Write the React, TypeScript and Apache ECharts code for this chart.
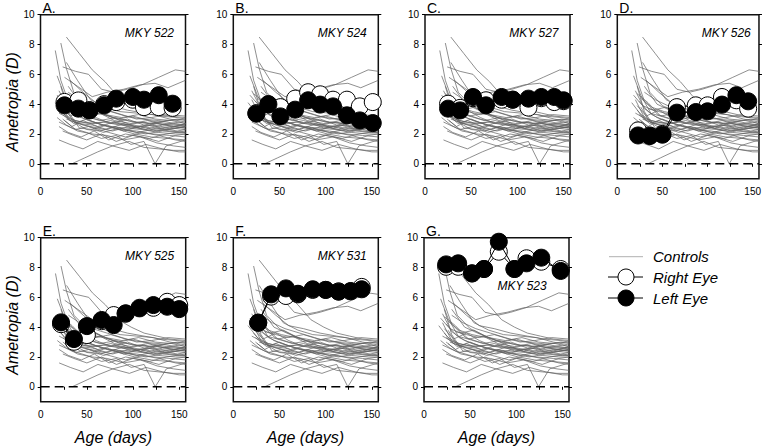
import React, { useEffect, useRef } from "react";
import * as echarts from "echarts";

// ---------- data ----------
const panelLetters = ["A.", "B.", "C.", "D.", "E.", "F.", "G."];
const monkeyIds = ["MKY 522", "MKY 524", "MKY 527", "MKY 526", "MKY 525", "MKY 531", "MKY 523"];

const agesA = [26, 41, 53, 69, 82, 100, 112, 128, 143];
const leftA = [3.92, 3.7, 3.58, 3.92, 4.37, 4.48, 4.3, 4.6, 4.03];
const rightA = [4.15, 4.25, 3.6, 4.0, 4.14, 4.3, 3.8, 3.8, 3.75];

const agesB = [25, 38, 51, 67, 81, 94, 108, 123, 137, 151];
const leftB = [3.36, 3.99, 3.18, 3.63, 4.26, 3.97, 3.85, 3.25, 2.91, 2.73];
const rightB = [3.4, 4.0, 3.8, 4.37, 4.8, 4.66, 4.3, 4.3, 3.85, 4.14];

const agesC = [25, 38, 52, 66, 83, 95, 112, 126, 140, 150];
const leftC = [3.7, 3.58, 4.48, 3.92, 4.48, 4.3, 4.37, 4.48, 4.48, 4.26];
const rightC = [4.03, 3.75, 4.4, 4.26, 4.3, 4.3, 3.77, 4.4, 4.14, 4.2];

const agesD = [23, 36, 50, 66, 87, 100, 116, 132, 145];
const leftD = [1.9, 1.86, 1.95, 3.43, 3.47, 3.52, 3.97, 4.6, 4.19];
const rightD = [2.24, 1.9, 2.0, 3.8, 3.92, 3.92, 4.48, 4.26, 3.7];

const agesE = [22, 36, 50, 66, 79, 92, 107, 122, 137, 150];
const leftE = [4.32, 3.2, 4.07, 4.48, 4.14, 4.93, 5.26, 5.48, 5.37, 5.21];
const rightE = [4.2, 3.02, 3.47, 4.4, 4.81, 4.9, 5.3, 5.3, 5.7, 5.48];

const agesF = [27, 41, 57, 70, 86, 100, 114, 127, 139];
const leftF = [4.3, 6.2, 6.6, 6.24, 6.54, 6.5, 6.38, 6.42, 6.54];
const rightF = [4.3, 6.05, 6.09, 6.2, 6.5, 6.5, 6.4, 6.4, 6.7];

const agesG = [24, 37, 52, 65, 81, 98, 111, 127, 148];
const leftG = [8.21, 8.28, 7.61, 7.9, 9.73, 7.9, 8.28, 8.66, 7.77];
const rightG = [8.05, 8.05, 7.6, 7.9, 9.06, 7.9, 8.62, 8.39, 7.9];

const subjectAges = [agesA, agesB, agesC, agesD, agesE, agesF, agesG];
const leftEye = [leftA, leftB, leftC, leftD, leftE, leftF, leftG];
const rightEye = [rightA, rightB, rightC, rightD, rightE, rightF, rightG];

// control animals: [age (days), ametropia (D)]
const controls: number[][][] = [
  [[16, 7.6], [22, 5.6], [30, 4.2], [45, 3.3], [60, 3.0], [80, 2.7], [100, 2.6], [120, 2.4], [140, 2.2], [157, 2.1]],
  [[22, 8.1], [28, 6.4], [36, 4.8], [50, 3.9], [66, 3.4], [84, 3.0], [104, 2.8], [124, 2.7], [144, 2.6], [157, 2.5]],
  [[28, 8.5], [42, 7.4], [56, 6.3], [70, 5.5], [84, 4.5], [98, 4.0], [112, 3.6], [126, 3.4], [140, 3.2], [157, 3.1]],
  [[24, 6.5], [38, 6.2], [52, 6.0], [66, 5.0], [80, 4.8], [94, 5.0], [110, 5.3], [128, 5.8], [146, 6.3], [157, 6.2]],
  [[26, 5.8], [40, 5.2], [56, 4.5], [72, 4.8], [90, 5.0], [108, 5.3], [124, 5.4], [138, 5.1], [157, 5.6]],
  [[34, 0.0], [48, 0.4], [62, 0.8], [78, 1.2], [96, 1.5], [112, 1.1], [128, 1.0], [144, 0.9], [157, 0.9]],
  [[20, 2.8], [34, 2.4], [50, 2.1], [66, 1.7], [82, 1.9], [98, 1.3], [112, 1.5], [124, 0.0], [136, 1.2], [157, 1.6]],
  [[18, 5.9], [26, 4.6], [38, 3.3], [52, 2.9], [68, 2.6], [86, 2.3], [104, 2.2], [122, 2.0], [140, 1.9], [157, 1.8]],
  [[20, 4.9], [30, 3.7], [44, 3.1], [58, 2.8], [74, 2.5], [92, 2.4], [110, 2.3], [128, 2.1], [146, 2.0], [157, 2.0]],
  [[22, 3.6], [32, 2.9], [46, 2.6], [62, 2.4], [78, 2.2], [96, 2.5], [114, 2.3], [132, 2.6], [150, 2.8], [157, 2.7]],
  [[24, 4.2], [36, 3.4], [48, 3.2], [64, 3.4], [80, 2.9], [98, 2.7], [116, 2.9], [134, 2.6], [157, 2.4]],
  [[18, 3.1], [28, 2.6], [40, 2.2], [56, 2.0], [72, 1.9], [90, 1.6], [108, 1.8], [126, 1.4], [144, 1.2], [157, 1.1]],
  [[26, 4.4], [38, 3.8], [52, 3.5], [68, 3.3], [84, 3.0], [100, 3.2], [118, 2.9], [136, 2.7], [157, 2.6]],
  [[20, 3.4], [32, 3.0], [44, 2.8], [60, 2.7], [76, 2.9], [94, 2.6], [112, 2.8], [130, 2.4], [148, 2.2], [157, 2.3]],
  [[30, 5.2], [44, 4.0], [58, 3.6], [74, 3.2], [90, 2.8], [106, 2.4], [122, 2.2], [140, 2.3], [157, 2.5]],
  [[24, 2.2], [36, 1.9], [50, 1.6], [66, 2.0], [82, 1.5], [100, 1.9], [118, 1.7], [136, 2.0], [157, 2.2]],
  [[22, 3.9], [32, 3.2], [46, 3.6], [60, 3.1], [76, 2.7], [94, 3.0], [112, 2.6], [130, 2.8], [148, 3.0], [157, 2.9]],
  [[28, 6.8], [40, 5.6], [54, 4.3], [70, 3.8], [86, 3.5], [104, 3.4], [122, 3.3], [140, 3.0], [157, 2.8]],
  [[18, 4.6], [28, 3.9], [40, 3.6], [54, 3.8], [70, 3.3], [88, 3.1], [106, 3.3], [124, 3.0], [142, 2.9], [157, 2.7]],
  [[26, 2.9], [38, 2.3], [52, 2.5], [68, 2.1], [86, 2.4], [104, 2.1], [122, 2.3], [140, 2.5], [157, 2.4]],
  [[20, 1.6], [32, 1.3], [46, 1.0], [62, 1.5], [78, 1.2], [96, 0.9], [114, 1.3], [132, 1.0], [150, 0.8], [157, 0.8]],
  [[30, 4.8], [42, 4.3], [56, 3.9], [72, 3.6], [88, 3.3], [104, 3.0], [120, 3.1], [138, 3.3], [157, 3.2]],
  [[22, 5.2], [30, 3.5], [42, 2.4], [56, 2.3], [72, 2.6], [90, 2.2], [108, 2.5], [126, 2.2], [146, 2.4], [157, 2.5]],
  [[24, 3.3], [36, 2.7], [50, 3.0], [66, 2.6], [84, 2.3], [102, 2.0], [120, 1.8], [138, 1.7], [157, 1.6]],
  [[34, 3.7], [46, 3.5], [60, 3.3], [76, 3.5], [92, 3.2], [110, 3.0], [128, 2.9], [146, 2.7], [157, 2.6]],
  [[20, 2.5], [30, 2.1], [44, 1.8], [58, 2.2], [74, 1.6], [92, 2.0], [110, 1.8], [128, 1.5], [146, 1.9], [157, 2.0]],
  [[26, 3.8], [36, 2.8], [50, 2.3], [64, 2.2], [80, 2.5], [96, 2.2], [114, 2.0], [132, 2.2], [150, 2.1], [157, 2.1]],
  [[16, 4.1], [26, 3.3], [38, 2.9], [52, 2.7], [68, 2.8], [86, 2.6], [104, 2.5], [122, 2.6], [140, 2.4], [157, 2.3]],
  [[28, 3.0], [42, 2.7], [58, 2.4], [74, 2.1], [92, 1.8], [110, 2.1], [128, 1.9], [146, 1.6], [157, 1.5]],
  [[22, 4.7], [34, 4.1], [48, 3.2], [64, 2.9], [82, 3.1], [100, 2.8], [118, 2.7], [136, 2.9], [157, 3.0]],
  [[32, 5.6], [46, 4.8], [60, 4.1], [76, 3.9], [94, 3.6], [112, 3.4], [130, 3.2], [148, 3.1], [157, 3.0]],
  [[24, 3.0], [34, 2.5], [46, 2.9], [62, 2.5], [80, 2.8], [98, 2.4], [116, 2.6], [134, 2.3], [152, 2.6], [157, 2.7]],
  [[20, 4.3], [30, 3.1], [42, 2.7], [56, 2.6], [72, 2.3], [90, 2.7], [108, 2.4], [126, 2.7], [144, 2.5], [157, 2.6]],
];

const xTickValues = [0, 25, 50, 75, 100, 125, 150];
const xLabelValues = [0, 50, 100, 150];
const yTickValues = [0, 2, 4, 6, 8, 10];
const legendLabels = ["Controls", "Right Eye", "Left Eye"];
const xTitle = "Age (days)";
const yTitle = "Ametropia (D)";

// ---------- layout ----------
const gridLefts = [40.5, 233.3, 425, 617.3, 40.7, 233.3, 424];
const gridTops = [14.7, 14.7, 14.7, 14.7, 237.7, 237.7, 237.7];
const GW = 145;
const GH = 164;
const FONT = "Liberation Sans, Arial, sans-serif";

export default function App() {
  const ref = useRef<HTMLDivElement>(null);
  useEffect(() => {
    if (!ref.current) return;
    const chart = echarts.init(ref.current, undefined, { renderer: "svg" });

    const grid: any[] = [];
    const xAxis: any[] = [];
    const yAxis: any[] = [];
    const series: any[] = [];
    const graphic: any[] = [];

    for (let i = 0; i < 7; i++) {
      grid.push({
        left: gridLefts[i], top: gridTops[i], width: GW, height: GH,
        show: true, borderColor: "#111", borderWidth: 1.5, backgroundColor: "transparent",
      });
      xAxis.push({
        gridIndex: i, type: "value", min: 0, max: 157,
        axisLine: { show: false },
        axisTick: { show: true, customValues: xTickValues, length: 3, lineStyle: { color: "#000", width: 1 } },
        axisLabel: { customValues: xLabelValues, fontSize: 10, color: "#000", margin: 8, fontFamily: FONT },
        splitLine: { show: false },
      });
      yAxis.push({
        gridIndex: i, type: "value", min: -1, max: 10, position: "left",
        axisLine: { show: false },
        axisTick: { show: true, customValues: yTickValues, length: 3, lineStyle: { color: "#000", width: 1 } },
        axisLabel: { customValues: yTickValues, fontSize: 10, color: "#000", margin: 6, fontFamily: FONT },
        splitLine: { show: false },
      });
      yAxis.push({
        gridIndex: i, type: "value", min: -1, max: 10, position: "right",
        axisLine: { show: false },
        axisTick: { show: true, customValues: yTickValues, length: 3, lineStyle: { color: "#000", width: 1 } },
        axisLabel: { show: false },
        splitLine: { show: false },
      });

      controls.forEach((c) => {
        series.push({
          type: "line", xAxisIndex: i, yAxisIndex: 2 * i, data: c, symbol: "none",
          lineStyle: { color: "#5e5e5e", width: 0.7 }, silent: true, z: 1,
        });
      });
      series.push({
        type: "line", xAxisIndex: i, yAxisIndex: 2 * i, data: [[0, 0], [157, 0]], symbol: "none",
        lineStyle: { color: "#000", width: 1.5, type: [9, 5] }, silent: true, z: 2,
      });
      series.push({
        type: "line", xAxisIndex: i, yAxisIndex: 2 * i,
        data: subjectAges[i].map((a, j) => [a, rightEye[i][j]]),
        symbol: "circle", symbolSize: 17, showAllSymbol: true,
        itemStyle: { color: "#fff", borderColor: "#000", borderWidth: 1 },
        lineStyle: { color: "#000", width: 1 }, z: 3,
      });
      series.push({
        type: "line", xAxisIndex: i, yAxisIndex: 2 * i,
        data: subjectAges[i].map((a, j) => [a, leftEye[i][j]]),
        symbol: "circle", symbolSize: 17, showAllSymbol: true,
        itemStyle: { color: "#000", borderColor: "#000", borderWidth: 1 },
        lineStyle: { color: "#000", width: 1 }, z: 4,
      });

      graphic.push({
        type: "text", x: gridLefts[i] + 2, y: gridTops[i] - 7,
        style: { text: panelLetters[i], font: `14px ${FONT}`, fill: "#000", textVerticalAlign: "middle" },
      });
      const isG = i === 6;
      graphic.push({
        type: "text",
        x: isG ? 546.7 : gridLefts[i] + GW - 11.5,
        y: isG ? 285.7 : gridTops[i] + 18.5,
        z: 10,
        style: {
          text: monkeyIds[i], font: `italic 12px ${FONT}`, fill: "#000",
          textAlign: "right", textVerticalAlign: "middle",
        },
      });
    }

    // axis titles
    [102, 325].forEach((cy) => {
      graphic.push({
        type: "text", x: 12, y: cy, rotation: Math.PI / 2,
        style: { text: yTitle, font: `italic 16px ${FONT}`, fill: "#000", textAlign: "center", textVerticalAlign: "middle" },
      });
    });
    [113.5, 305.5, 496.5].forEach((cx) => {
      graphic.push({
        type: "text", x: cx, y: 437,
        style: { text: xTitle, font: `italic 16px ${FONT}`, fill: "#000", textAlign: "center", textVerticalAlign: "middle" },
      });
    });

    // legend
    const ly = [256.7, 277, 298];
    graphic.push({ type: "line", shape: { x1: 609, y1: ly[0], x2: 643, y2: ly[0] }, style: { stroke: "#b0b0b0", lineWidth: 1 } });
    graphic.push({ type: "line", shape: { x1: 608, y1: ly[1], x2: 643, y2: ly[1] }, style: { stroke: "#000", lineWidth: 1 } });
    graphic.push({ type: "circle", shape: { cx: 626, cy: ly[1], r: 8 }, style: { fill: "#fff", stroke: "#000", lineWidth: 1 } });
    graphic.push({ type: "line", shape: { x1: 608, y1: ly[2], x2: 643, y2: ly[2] }, style: { stroke: "#000", lineWidth: 1 } });
    graphic.push({ type: "circle", shape: { cx: 626, cy: ly[2], r: 8 }, style: { fill: "#000", stroke: "#000", lineWidth: 1 } });
    legendLabels.forEach((t, k) => {
      graphic.push({
        type: "text", x: 653, y: ly[k],
        style: { text: t, font: `italic 15px ${FONT}`, fill: "#000", textVerticalAlign: "middle" },
      });
    });

    chart.setOption({
      animation: false,
      backgroundColor: "#fff",
      grid, xAxis, yAxis, series, graphic,
    });
    return () => chart.dispose();
  }, []);

  return (
    <div
      ref={ref}
      style={{ position: "absolute", left: 0, top: 0, width: 764, height: 446 }}
    />
  );
}
